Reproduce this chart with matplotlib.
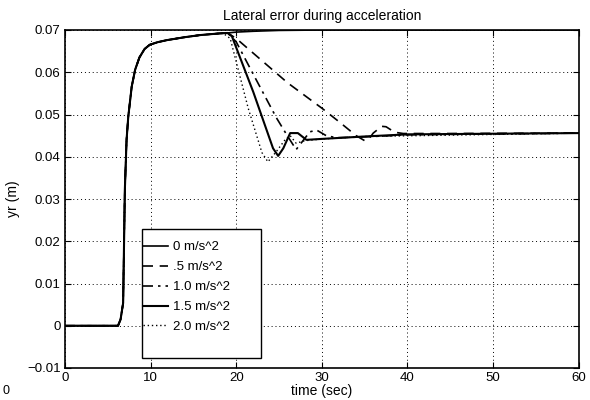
import matplotlib
matplotlib.use('Agg')
from matplotlib import pyplot as plt
from matplotlib.patches import Rectangle

plt.rcParams['font.family'] = ['Liberation Sans', 'DejaVu Sans']

# common part: start of manoeuvre, all runs identical until ~19 s
t_rise = [0, 6.2, 6.5, 6.8, 7.0, 7.2, 7.4, 7.8, 8.2, 8.7, 9.3, 9.9, 10.8,
          11.9, 14.0, 15.8, 18.1]
y_rise = [0, 0, 0.0015, 0.0054, 0.0322, 0.0440, 0.0495, 0.0566, 0.0606,
          0.0635, 0.0655, 0.0665, 0.0671, 0.0676, 0.0683, 0.0688, 0.0692]

t_a0 = [19, 20, 22, 25, 30, 60]
y_a0 = [0.0693, 0.0695, 0.0697, 0.0699, 0.0700, 0.0700]

t_a05 = [19, 20, 22, 24, 26, 28, 30, 32, 34, 35, 35.5, 36, 37, 37.5, 38.5, 39.5, 45, 60]
y_a05 = [0.0693, 0.0680, 0.0645, 0.0610, 0.0575, 0.0545, 0.0515, 0.0483, 0.0450,
         0.0438, 0.0442, 0.0456, 0.0472, 0.0471, 0.0458, 0.0455, 0.0455, 0.0456]

t_a10 = [19, 20, 22, 24.7, 25.9, 27.0, 28.6, 29.4, 30.5, 31.7, 35, 40, 60]
y_a10 = [0.0693, 0.0672, 0.0595, 0.0492, 0.0452, 0.0417, 0.0459, 0.0463, 0.0450,
         0.0445, 0.0447, 0.0452, 0.0456]

t_a15 = [19, 19.5, 22, 24.3, 24.9, 25.5, 26.3, 27.2, 28.2, 29.8, 35, 40, 60]
y_a15 = [0.0693, 0.0685, 0.0553, 0.0420, 0.0402, 0.0420, 0.0456, 0.0456, 0.0440,
         0.0442, 0.0448, 0.0453, 0.0456]

t_a20 = [18.5, 19.3, 21.4, 23.0, 23.7, 24.6, 25.7, 26.3, 27.0, 28.0, 30, 35, 60]
y_a20 = [0.0692, 0.0680, 0.0515, 0.0410, 0.0388, 0.0410, 0.0440, 0.0450, 0.0432,
         0.0438, 0.0442, 0.0448, 0.0456]

labels = ['0 m/s^2', '.5 m/s^2', '1.0 m/s^2', '1.5 m/s^2', '2.0 m/s^2']
styles = ['-', (0, (6, 4)), (0, (6, 3, 1.5, 3)), '-', (0, (1, 2))]
widths = [1.2, 1.2, 1.2, 1.5, 1.0]
tails = [(t_a0, y_a0), (t_a05, y_a05), (t_a10, y_a10), (t_a15, y_a15), (t_a20, y_a20)]


def main():
    fig = plt.figure(figsize=(5.9, 4.0), dpi=100)
    ax = fig.add_axes([0.110, 0.080, 0.871, 0.845])

    for (tt, yy), lab, ls, lw in zip(tails, labels, styles, widths):
        t0 = [t for t in t_rise if t < tt[0]]
        x = t0 + tt
        y = y_rise[:len(t0)] + yy
        ax.plot(x, y, color='k', linestyle=ls, linewidth=lw, label=lab)

    ax.set_xlim(0, 60)
    ax.set_ylim(-0.01, 0.07)
    ax.set_xticks(range(0, 61, 10))
    ax.set_yticks([-0.01, 0, 0.01, 0.02, 0.03, 0.04, 0.05, 0.06, 0.07])
    ax.set_yticklabels(['\u22120.01', '0', '0.01', '0.02', '0.03', '0.04',
                        '0.05', '0.06', '0.07'])
    ax.grid(True, color='k', linestyle=(0, (1, 3)), linewidth=0.7)
    ax.tick_params(direction='in', top=True, right=True, length=4,
                   labelsize=9.5, pad=3)
    for s in ax.spines.values():
        s.set_linewidth(1.2)

    ax.set_title('Lateral error during acceleration', fontsize=10, pad=7)
    ax.set_xlabel('time (sec)', fontsize=10, labelpad=0)
    ax.set_ylabel('yr (m)', fontsize=10, labelpad=5)

    # legend frame
    box = Rectangle((0.150, 0.030), 0.231, 0.381, transform=ax.transAxes,
                    facecolor='white', edgecolor='k', linewidth=1.0, zorder=4)
    ax.add_patch(box)
    leg = ax.legend(loc='upper left', bbox_to_anchor=(0.152, 0.375),
                    frameon=False, fontsize=9.5, handlelength=1.9,
                    handletextpad=0.4, labelspacing=0.58, borderpad=0.0,
                    borderaxespad=0.0)
    leg.set_zorder(5)

    fig.text(0.004, 0.015, '0', fontsize=9)

    fig.savefig('out.png', dpi=100)


if __name__ == '__main__':
    main()
